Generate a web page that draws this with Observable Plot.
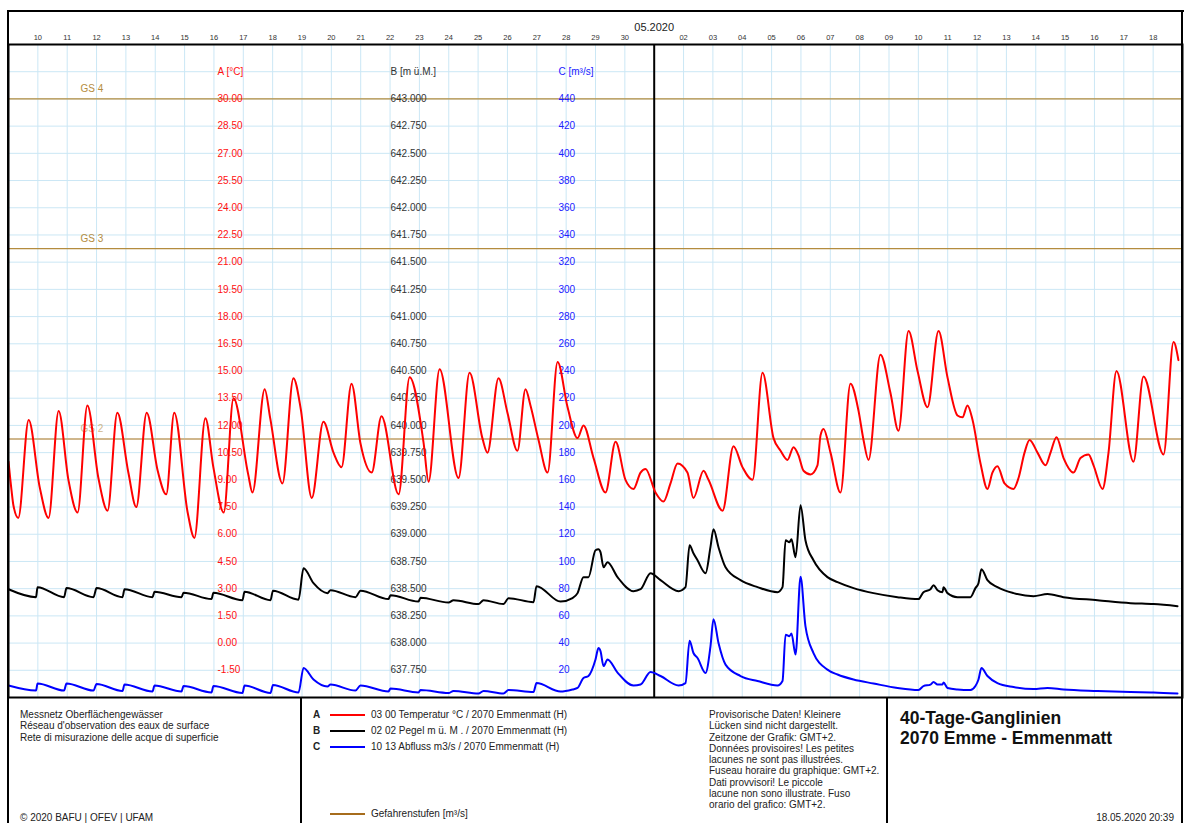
<!DOCTYPE html>
<html><head><meta charset="utf-8">
<script src="https://cdn.jsdelivr.net/npm/d3@7"></script>
<script src="https://cdn.jsdelivr.net/npm/@observablehq/plot@0.6"></script>
<style>
html,body{margin:0;padding:0;background:#fff;}
body{width:1200px;height:823px;overflow:hidden;font-family:"Liberation Sans",Arial,sans-serif;color:#222;}
#wrap{position:relative;width:1200px;height:823px;}
#chart{position:absolute;left:0;top:0;}
.abs{position:absolute;white-space:nowrap;}
.ln{position:absolute;background:#000;}
.t10{font-size:10px;line-height:11.3px;}
</style></head>
<body><div id="wrap"><div id="chart"></div></div>
<script>
// ---------- data ----------
const tempTimes = ["04-09 00:00","04-09 02:30","04-09 04:00","04-09 08:00","04-09 16:30","04-10 01:30","04-10 08:45","04-10 17:00","04-11 01:00","04-11 08:30","04-11 16:30","04-12 01:30","04-12 09:00","04-12 17:00","04-13 02:00","04-13 08:30","04-13 17:00","04-14 02:00","04-14 09:00","04-14 15:30","04-15 02:30","04-15 08:00","04-15 17:00","04-15 23:30","04-16 08:00","04-16 16:00","04-17 04:00","04-17 07:30","04-17 17:30","04-17 22:00","04-18 08:00","04-18 17:00","04-18 23:00","04-19 08:00","04-19 17:30","04-20 01:45","04-20 08:20","04-20 16:30","04-20 23:50","04-21 09:00","04-21 17:00","04-22 07:00","04-22 16:00","04-23 03:30","04-23 07:30","04-23 16:30","04-24 08:00","04-24 17:00","04-25 03:30","04-25 07:40","04-25 16:40","04-26 00:00","04-26 08:10","04-26 14:45","04-26 18:50","04-27 01:25","04-27 08:50","04-27 17:00","04-28 01:10","04-28 09:20","04-28 14:10","04-28 22:25","04-29 08:10","04-29 16:25","04-30 00:30","04-30 07:05","04-30 12:50","04-30 16:55","05-01 01:05","05-01 07:35","05-01 13:20","05-01 19:05","05-02 03:10","05-02 08:05","05-02 16:20","05-02 20:25","05-03 07:55","05-03 16:50","05-04 00:10","05-04 08:25","05-04 16:35","05-05 01:35","05-05 07:20","05-05 13:00","05-05 17:55","05-05 22:00","05-06 02:05","05-06 07:50","05-06 13:30","05-06 16:00","05-06 18:25","05-07 00:10","05-07 08:20","05-07 16:30","05-07 23:05","05-08 03:10","05-08 07:15","05-08 17:00","05-09 01:10","05-09 07:45","05-09 16:00","05-09 23:20","05-10 07:30","05-10 16:30","05-10 23:50","05-11 08:00","05-11 12:05","05-11 16:10","05-11 20:20","05-12 02:50","05-12 08:30","05-12 12:35","05-12 16:40","05-12 22:30","05-13 05:50","05-13 09:55","05-13 14:50","05-13 18:55","05-14 01:25","05-14 08:00","05-14 12:05","05-14 17:00","05-14 22:45","05-15 06:55","05-15 12:35","05-15 19:10","05-15 23:15","05-16 06:35","05-16 11:30","05-16 18:00","05-17 07:55","05-17 16:05","05-18 08:30","05-18 16:40","05-18 20:40"];
const tempValues = [10.0,8.4,7.6,6.9,12.3,8.6,6.9,12.8,9.0,7.2,13.1,9.1,7.3,12.7,9.4,7.5,12.7,9.5,8.2,12.7,7.2,5.8,12.4,9.7,7.2,13.5,9.3,8.3,14.0,12.4,8.8,14.6,12.9,8.0,12.2,10.5,9.7,14.3,11.0,9.4,12.5,8.2,14.65,11.0,8.9,15.1,9.1,14.9,11.3,10.5,14.6,12.7,10.6,14.0,13.1,11.2,9.4,15.5,13.0,11.3,12.0,10.2,8.3,11.1,9.0,8.5,9.4,9.6,8.3,7.8,8.8,9.9,9.4,8.0,9.5,9.0,7.3,10.85,9.7,9.0,14.9,11.3,10.6,10.1,10.8,10.35,9.5,9.3,9.8,11.45,11.8,10.5,8.3,14.3,12.8,11.2,10.1,15.9,13.8,11.7,17.2,15.0,13.0,17.2,14.65,12.55,12.45,13.1,12.3,9.9,8.5,9.4,9.75,8.8,8.5,9.1,10.5,11.2,10.5,9.8,10.5,11.35,10.2,9.4,10.2,10.4,9.8,8.5,10.5,15.0,10.0,14.7,10.4,16.6,15.6];

const levelTimes = ["04-09 00:00","04-09 22:30","04-09 23:45","04-10 21:25","04-10 23:25","04-11 21:30","04-12 00:00","04-12 21:15","04-12 22:50","04-13 21:45","04-13 23:25","04-14 21:30","04-14 23:05","04-15 22:00","04-15 23:35","04-16 23:20","04-17 01:00","04-17 22:15","04-18 00:15","04-18 21:10","04-19 01:15","04-19 09:25","04-19 20:50","04-19 23:20","04-20 19:45","04-20 23:50","04-21 22:45","04-22 00:20","04-22 23:15","04-23 00:55","04-23 23:50","04-24 03:55","04-25 00:20","04-25 04:25","04-25 20:45","04-26 00:55","04-26 21:20","04-26 23:45","04-27 19:25","04-28 05:10","04-28 09:20","04-28 14:10","04-28 18:15","04-29 00:00","04-29 02:25","04-29 04:05","04-29 06:35","04-29 09:50","04-29 18:00","04-30 07:05","04-30 12:50","04-30 21:00","05-01 05:10","05-01 19:55","05-02 01:35","05-02 04:55","05-02 08:05","05-02 11:25","05-02 18:00","05-02 22:00","05-03 00:30","05-03 04:35","05-03 10:20","05-03 22:35","05-04 12:30","05-05 04:50","05-05 08:55","05-05 11:25","05-05 14:35","05-05 16:15","05-05 19:35","05-05 23:40","05-06 03:40","05-06 10:15","05-06 21:40","05-07 05:55","05-07 19:00","05-08 11:20","05-09 07:00","05-10 00:05","05-10 04:10","05-10 09:55","05-10 12:25","05-10 15:40","05-10 19:45","05-10 20:35","05-10 23:50","05-11 08:00","05-11 18:35","05-11 22:40","05-12 01:10","05-12 03:35","05-12 08:30","05-12 16:40","05-13 05:50","05-13 22:10","05-14 09:35","05-14 22:40","05-16 02:30","05-17 05:30","05-18 00:20","05-18 19:55"];
const levelValues = [638.495,638.422,638.514,638.422,638.505,638.422,638.505,638.422,638.495,638.422,638.472,638.422,638.463,638.404,638.463,638.394,638.472,638.394,638.482,638.399,638.688,638.550,638.459,638.486,638.422,638.482,638.404,638.440,638.381,638.417,638.372,638.394,638.358,638.394,638.358,638.413,638.376,638.523,638.381,638.413,638.459,638.606,638.606,638.853,638.862,638.835,638.697,638.743,638.606,638.477,638.495,638.642,638.578,638.477,638.514,638.899,638.826,638.761,638.642,638.881,639.046,638.881,638.697,638.578,638.514,638.468,638.514,638.945,638.927,638.954,638.789,639.266,638.945,638.761,638.606,638.560,638.505,638.459,638.422,638.404,638.468,638.495,638.532,638.486,638.468,638.514,638.459,638.422,638.422,638.505,638.550,638.679,638.578,638.514,638.459,638.431,638.450,638.422,638.394,638.367,638.358,638.339];
const flowValues = [8.8,5.1,10.3,5.1,10.3,5.1,9.9,4.8,9.5,4.4,8.8,4.4,8.4,3.7,8.4,3.3,8.8,3.3,9.2,3.7,21.7,13.2,8.1,9.5,5.1,8.8,4.4,6.6,3.7,5.5,3.3,4.8,2.9,4.8,2.9,5.5,4.0,10.6,4.4,5.9,7.0,14.3,15.8,27.9,36.3,34.1,23.1,27.9,18.3,8.8,9.5,18.7,15.8,8.8,10.6,41.8,32.7,29.0,18.0,37.4,57.6,40.0,24.2,15.8,12.1,8.8,12.1,46.2,45.1,47.0,31.6,88.8,52.5,32.7,20.5,16.9,13.2,10.3,7.0,5.5,8.4,9.5,11.4,9.5,9.5,11.0,7.0,5.9,5.5,8.4,13.2,21.7,15.8,10.6,7.7,6.2,7.0,5.9,4.8,4.0,3.7,2.9];

const tempTicks = [-1.5,0,1.5,3,4.5,6,7.5,9,10.5,12,13.5,15,16.5,18,19.5,21,22.5,24,25.5,27,28.5,30];
const levelTicks = [637.75,638.0,638.25,638.5,638.75,639.0,639.25,639.5,639.75,640.0,640.25,640.5,640.75,641.0,641.25,641.5,641.75,642.0,642.25,642.5,642.75,643.0];
const flowTicks = [20,40,60,80,100,120,140,160,180,200,220,240,260,280,300,320,340,360,380,400,420,440];
const gridRows = [-1.5,0,1.5,3,4.5,6,7.5,9,10.5,12,13.5,15,16.5,18,19.5,21,22.5,24,25.5,27,28.5,30,31.5];
const axisTitles = ["A [°C]","B [m ü.M.]","C [m³/s]"];
const gsNames = ["GS 2","GS 3","GS 4"];
const gsValues = [190,330,440];
const gsColors = ["#cfb68c","#b48c3e","#b48c3e"];

const legendKeys = ["A","B","C"];
const legendLabels = ["03 00 Temperatur °C / 2070 Emmenmatt (H)","02 02 Pegel m ü. M . / 2070 Emmenmatt (H)","10 13 Abfluss m3/s / 2070 Emmenmatt (H)"];
const seriesColors = ["#ff0000","#000000","#0000ff"];

// ---------- shared scale helpers (A-axis units) ----------
const fromB = b => 30 + (b - 643) * 6;
const fromC = c => 30 + (c - 440) * 0.075;
const parse = d3.utcParse("%Y-%m-%d %H:%M");
const temp = tempTimes.map((t, i) => ({t: parse("2020-" + t), v: tempValues[i]}));
const level = levelTimes.map((t, i) => ({t: parse("2020-" + t), b: levelValues[i], c: flowValues[i]}));
const gs = gsNames.map((n, i) => ({name: n, v: gsValues[i], color: gsColors[i]}));

const x0 = new Date(Date.UTC(2020, 3, 9)), x1 = new Date(Date.UTC(2020, 4, 19));
const monthStart = new Date(Date.UTC(2020, 4, 1));
const days = d3.utcDay.range(new Date(Date.UTC(2020, 3, 10)), x1).filter(d => +d !== +monthStart);

const chart = Plot.plot({
  width: 1200, height: 700,
  marginLeft: 8, marginRight: 18, marginTop: 44, marginBottom: 3,
  x: {type: "utc", domain: [x0, x1], label: null},
  y: {domain: [-3, 33], axis: null},
  style: {fontFamily: "'Liberation Sans', Arial, sans-serif", background: "white", overflow: "visible"},
  marks: [
    Plot.ruleY(gridRows, {stroke: "#cbe7f5", strokeWidth: 1}),
    Plot.ruleX(days, {stroke: "#cbe7f5", strokeWidth: 1}),
    Plot.ruleY(gs, {y: d => fromC(d.v), stroke: d => d.color, strokeWidth: d => d.name === "GS 2" ? 1.8 : 1.3}),
    Plot.text(gs, {y: d => fromC(d.v), text: "name", frameAnchor: "left", dx: 72, dy: -10, textAnchor: "start", fill: d => d.color, fontSize: 10}),
    Plot.text(tempTicks, {y: d => d, text: d => d.toFixed(2), frameAnchor: "left", dx: 209, textAnchor: "start", fill: "#ff1010", fontSize: 10}),
    Plot.text(levelTicks, {y: d => fromB(d), text: d => d.toFixed(3), frameAnchor: "left", dx: 382, textAnchor: "start", fill: "#333", fontSize: 10}),
    Plot.text(flowTicks, {y: d => fromC(d), text: d => String(d), frameAnchor: "left", dx: 550, textAnchor: "start", fill: "#2020ff", fontSize: 10}),
    Plot.text([axisTitles[0]], {y: () => 31.5, text: d => d, frameAnchor: "left", dx: 209, textAnchor: "start", fill: "#ff1010", fontSize: 10}),
    Plot.text([axisTitles[1]], {y: () => 31.5, text: d => d, frameAnchor: "left", dx: 382, textAnchor: "start", fill: "#333", fontSize: 10}),
    Plot.text([axisTitles[2]], {y: () => 31.5, text: d => d, frameAnchor: "left", dx: 550, textAnchor: "start", fill: "#2020ff", fontSize: 10}),
    Plot.ruleX([monthStart], {stroke: "#000", strokeWidth: 2}),
    Plot.line(level, {x: "t", y: d => fromC(d.c), curve: "monotone-x", stroke: seriesColors[2], strokeWidth: 2}),
    Plot.line(level, {x: "t", y: d => fromB(d.b), curve: "monotone-x", stroke: seriesColors[1], strokeWidth: 2}),
    Plot.line(temp, {x: "t", y: "v", curve: "monotone-x", stroke: seriesColors[0], strokeWidth: 2}),
    Plot.frame({stroke: "#000", strokeWidth: 2}),
    Plot.axisX({anchor: "top", ticks: days, tickFormat: d3.utcFormat("%d"), tickSize: 0, tickPadding: 5, fontSize: 7.5, fill: "#333", label: null}),
    Plot.text([monthStart], {x: d => d, text: () => "05.2020", frameAnchor: "top", dy: -21, fontSize: 11, fill: "#222"})
  ]
});
document.getElementById("chart").appendChild(chart);

// ---------- frame and bottom panel ----------
const wrap = document.getElementById("wrap");
function add(html) { wrap.insertAdjacentHTML("beforeend", html); }
add('<div class="ln" style="left:7px;top:10px;width:1177px;height:2px"></div>');
add('<div class="ln" style="left:7px;top:10px;width:2px;height:813px"></div>');
add('<div class="ln" style="left:1181px;top:10px;width:2px;height:813px"></div>');
add('<div class="ln" style="left:300px;top:697px;width:2px;height:126px"></div>');
add('<div class="ln" style="left:886px;top:697px;width:2px;height:126px"></div>');

add('<div class="abs t10" style="left:20px;top:709px">Messnetz Oberflächengewässer<br>Réseau d\'observation des eaux de surface<br>Rete di misurazione delle acque di superficie</div>');
add('<div class="abs t10" style="left:20px;top:812px">© 2020 BAFU | OFEV | UFAM</div>');

const rowY = [715, 731, 747];
legendKeys.forEach((k, i) => {
  add(`<div class="abs" style="left:313px;top:${rowY[i]-6}px;font-size:10px;font-weight:bold;line-height:12px">${k}</div>`);
  add(`<div class="ln" style="left:330px;top:${rowY[i]-1}px;width:35px;height:2px;background:${seriesColors[i]}"></div>`);
  add(`<div class="abs" style="left:371px;top:${rowY[i]-6}px;font-size:10px;line-height:12px">${legendLabels[i]}</div>`);
});
add('<div class="ln" style="left:330px;top:813px;width:35px;height:2px;background:#a66c1c"></div>');
add('<div class="abs" style="left:371px;top:808px;font-size:10px;line-height:12px">Gefahrenstufen [m³/s]</div>');

add('<div class="abs t10" style="left:709px;top:709px">Provisorische Daten! Kleinere<br>Lücken sind nicht dargestellt.<br>Zeitzone der Grafik: GMT+2.<br>Données provisoires! Les petites<br>lacunes ne sont pas illustrées.<br>Fuseau horaire du graphique: GMT+2.<br>Dati provvisori! Le piccole<br>lacune non sono illustrate. Fuso<br>orario del grafico: GMT+2.</div>');

add('<div class="abs" style="left:900px;top:708px;font-size:17.5px;font-weight:bold;line-height:20px;color:#111">40-Tage-Ganglinien<br>2070 Emme - Emmenmatt</div>');
add('<div class="abs t10" style="right:26px;top:812px">18.05.2020 20:39</div>');
</script>
</body></html>
